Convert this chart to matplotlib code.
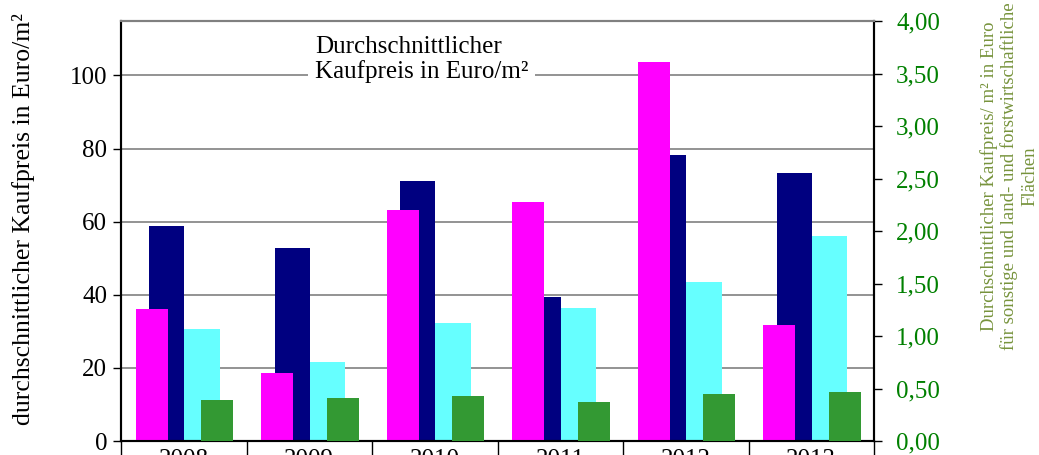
import numpy as np
import matplotlib
matplotlib.use("Agg")
import matplotlib.pyplot as plt

plt.rcParams['font.family'] = ['Liberation Serif', 'DejaVu Serif']

years = ['2008', '2009', '2010', '2011', '2012', '2013']
magenta_vals = [36.1, 18.6, 63.1, 65.5, 103.8, 31.6]
navy_vals = [58.8, 52.7, 71.1, 39.3, 78.3, 73.4]
cyan_vals = [30.7, 21.5, 32.2, 36.5, 43.4, 56.0]
green_vals = [0.39, 0.41, 0.425, 0.37, 0.45, 0.467]

x = np.arange(len(years))

fig = plt.figure(figsize=(10.39, 4.55), dpi=100)
ax = fig.add_axes([121/1039, 14/455, 753/1039, 420/455])
ax2 = ax.twinx()

# bars (navy first so magenta sits on top of it)
ax.bar(x - 0.135, navy_vals, width=0.28, color='#000080', zorder=2)
ax.bar(x - 0.255, magenta_vals, width=0.255, color='#FF00FF', zorder=3)
ax.bar(x + 0.145, cyan_vals, width=0.285, color='#66FFFF', zorder=2)
ax2.bar(x + 0.265, green_vals, width=0.255, color='#339933', zorder=3)

ax.set_xlim(-0.5, len(years) - 0.5)
ax.set_ylim(0, 114.9)
ax2.set_ylim(0, 4)

ax.set_yticks([0, 20, 40, 60, 80, 100])
ax.yaxis.grid(True, color='#808080', linewidth=1.2)
ax.set_axisbelow(True)
ax.tick_params(axis='y', labelsize=18, length=6, width=1, direction='out', pad=4)

ax2.set_yticks(np.arange(0, 4.01, 0.5))
ax2.set_yticklabels([('%.2f' % v).replace('.', ',') for v in np.arange(0, 4.01, 0.5)])
ax2.tick_params(axis='y', labelsize=18, length=6, width=1, direction='out',
                labelcolor='#008000', pad=10)

# x axis: boundaries as ticks, years in between
ax.set_xticks(np.arange(-0.5, len(years), 1.0))
ax.set_xticklabels([])
ax.set_xticks(x, minor=True)
ax.set_xticklabels(years, minor=True)
ax.tick_params(axis='x', which='major', length=12, width=1)
ax.tick_params(axis='x', which='minor', length=0, labelsize=18, pad=6)
ax2.tick_params(axis='x', which='both', length=0)

for a in (ax, ax2):
    a.spines['top'].set_color('#808080')
    a.spines['top'].set_linewidth(1.5)
    a.spines['left'].set_linewidth(1.5)
    a.spines['right'].set_linewidth(1.5)
    a.spines['bottom'].set_linewidth(1.5)

ax.text(0.2576, 0.965, 'Durchschnittlicher\nKaufpreis in Euro/m²', transform=ax.transAxes,
        ha='left', va='top', fontsize=18, linespacing=1.15, zorder=5,
        bbox=dict(facecolor='white', edgecolor='none', pad=5))

fig.text(24/1039, 0.519, 'durchschnittlicher Kaufpreis in Euro/m²', rotation=90,
         ha='center', va='center', fontsize=18.5)
fig.text(1009/1039, 0.613,
         'Durchschnittlicher Kaufpreis/ m² in Euro\nfür sonstige und land- und forstwirtschaftliche\nFlächen',
         rotation=90, ha='center', va='center', multialignment='center',
         fontsize=13.5, color='#77933C', linespacing=1.2)

fig.savefig('out.png', dpi=100)
